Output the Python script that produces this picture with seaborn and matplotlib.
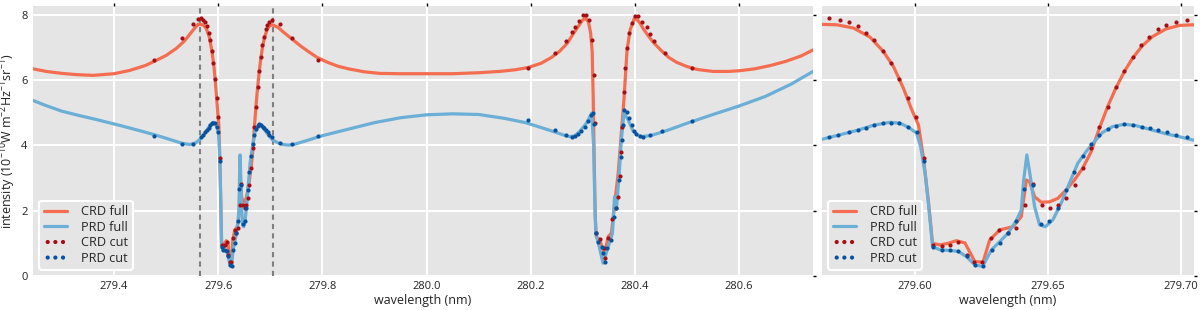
import numpy as np
import pandas as pd
import seaborn as sns
import matplotlib.pyplot as plt

# Mg II h&k profiles
crd_full_wl = [279.2445, 279.27, 279.30, 279.33, 279.36, 279.40, 279.43, 279.46, 279.48, 279.50,
               279.52, 279.535, 279.545, 279.555, 279.562,
               279.5706, 279.5769, 279.5831, 279.5881, 279.5919, 279.5956, 279.5988, 279.6013,
               279.6031, 279.605, 279.6066, 279.6094, 279.6125, 279.6156, 279.6188, 279.6225, 279.6256,
               279.6281, 279.6319, 279.6369, 279.64, 279.6419, 279.6431, 279.645, 279.6475, 279.6506,
               279.6538, 279.6569, 279.66, 279.6631, 279.6663, 279.6694, 279.6725, 279.6756, 279.6788,
               279.6819, 279.6856, 279.6894, 279.6944, 279.6994, 279.7044,
               279.715, 279.725, 279.735, 279.745, 279.76, 279.775, 279.79, 279.81, 279.83, 279.85,
               279.88, 279.91, 279.95, 280.0, 280.05, 280.10, 280.14, 280.17, 280.195, 280.22,
               280.24, 280.255, 280.27, 280.28, 280.29, 280.30, 280.306, 280.311, 280.315,
               280.318, 280.32, 280.322, 280.324, 280.326, 280.333, 280.341, 280.349, 280.355, 280.362,
               280.368, 280.374, 280.379, 280.385, 280.391, 280.399, 280.405, 280.41, 280.416, 280.425,
               280.435, 280.45, 280.465, 280.48, 280.50, 280.52, 280.55, 280.58, 280.60, 280.63,
               280.66, 280.69, 280.72, 280.742]
crd_full_int = [6.35, 6.27, 6.21, 6.17, 6.15, 6.20, 6.30, 6.45, 6.60, 6.76,
                6.98, 7.20, 7.40, 7.60, 7.72,
                7.70, 7.60, 7.32, 6.88, 6.42, 5.76, 5.09, 4.63,
                3.66, 2.33, 1.00, 0.95, 1.00, 1.08, 1.01, 0.44, 0.42,
                1.10, 1.41, 1.51, 1.82, 2.94, 2.89, 2.43, 2.26, 2.27,
                2.38, 2.64, 2.94, 3.30, 3.81, 4.53, 5.19, 5.76, 6.27,
                6.68, 7.06, 7.34, 7.57, 7.68, 7.70,
                7.62, 7.48, 7.35, 7.22, 7.03, 6.86, 6.70, 6.55, 6.43, 6.35,
                6.26, 6.21, 6.20, 6.20, 6.20, 6.23, 6.27, 6.32, 6.39, 6.52,
                6.70, 6.88, 7.13, 7.38, 7.62, 7.85, 7.90, 7.78, 7.45,
                6.90, 5.50, 3.50, 1.80, 1.20, 1.10, 0.64, 1.21, 1.31, 2.33,
                3.15, 4.38, 5.40, 6.93, 7.55, 7.90, 7.85, 7.75, 7.58, 7.38,
                7.17, 6.92, 6.70, 6.55, 6.42, 6.33, 6.27, 6.27, 6.29, 6.35,
                6.45, 6.58, 6.75, 6.93]

prd_full_wl = [279.2445, 279.27, 279.30, 279.33, 279.37, 279.41, 279.45, 279.48, 279.51, 279.53,
               279.545, 279.557, 279.565,
               279.5719, 279.5781, 279.5844, 279.5906, 279.5944, 279.5975, 279.6006, 279.6021, 279.6038,
               279.6054, 279.6066, 279.6094, 279.6131, 279.6163, 279.6194, 279.6225, 279.6254, 279.6288,
               279.6325, 279.635, 279.6381, 279.64, 279.6409, 279.6421, 279.6434, 279.645, 279.6469,
               279.6491, 279.6519, 279.655, 279.6581, 279.6613, 279.6644, 279.6675, 279.6706, 279.6744,
               279.6788, 279.6831, 279.6881, 279.6944, 279.6994, 279.7044,
               279.715, 279.725, 279.735, 279.745, 279.77, 279.80, 279.85, 279.90, 279.95, 280.0,
               280.05, 280.10, 280.15, 280.19, 280.22, 280.245, 280.265, 280.275, 280.285, 280.294,
               280.307, 280.317, 280.321, 280.323, 280.325, 280.33, 280.339, 280.349, 280.357, 280.361,
               280.365, 280.37, 280.374, 280.379, 280.387, 280.397, 280.41, 280.43, 280.46, 280.50,
               280.55, 280.60, 280.65, 280.70, 280.742]
prd_full_int = [5.38, 5.22, 5.05, 4.93, 4.78, 4.62, 4.45, 4.32, 4.17, 4.07,
                4.03, 4.08, 4.19,
                4.33, 4.46, 4.62, 4.71, 4.68, 4.56, 4.38, 3.97, 3.15,
                1.93, 0.90, 0.80, 0.78, 0.75, 0.59, 0.34, 0.29, 0.80,
                1.10, 1.31, 1.69, 2.02, 2.94, 3.71, 3.05, 2.13, 1.56,
                1.51, 1.72, 2.23, 2.84, 3.46, 3.81, 4.12, 4.40, 4.58,
                4.65, 4.61, 4.50, 4.36, 4.27, 4.17,
                4.08, 4.03, 4.01, 4.03, 4.15, 4.30, 4.50, 4.70, 4.85, 4.94,
                4.97, 4.95, 4.83, 4.70, 4.55, 4.42, 4.31, 4.27, 4.30, 4.43,
                4.68, 4.99, 3.97, 2.33, 1.31, 1.00, 0.39, 0.90, 1.31, 2.43,
                2.13, 3.15, 4.17, 5.00, 4.79, 4.43, 4.27, 4.30, 4.45, 4.68,
                4.95, 5.21, 5.50, 5.88, 6.27]

crd_cut_wl = [279.477, 279.530, 279.551, 279.562,
              279.5675, 279.5716, 279.575, 279.5784, 279.5816, 279.5847, 279.5879, 279.591, 279.5941,
              279.5973, 279.6004, 279.6035, 279.6069, 279.61, 279.6131, 279.616, 279.6194, 279.6222,
              279.6254, 279.6285, 279.6316, 279.6351, 279.6381, 279.6413, 279.6444, 279.6478, 279.6509,
              279.6538, 279.6569, 279.6601, 279.6631, 279.6663, 279.6694, 279.6727, 279.6756, 279.6788,
              279.6819, 279.6851, 279.6881, 279.6915, 279.6946, 279.6982, 279.7025,
              279.7186, 279.741, 279.792,
              280.195, 280.2465, 280.2676, 280.2785, 280.2848, 280.293, 280.2996, 280.306, 280.3124,
              280.3175, 280.321, 280.3234, 280.3253, 280.333, 280.3405, 280.342, 280.3488, 280.357,
              280.3635, 280.368, 280.371, 280.3725, 280.3756, 280.379, 280.381, 280.384, 280.3885,
              280.3936, 280.400, 280.4063, 280.413, 280.4225, 280.4289, 280.4365, 280.4576, 280.5088]
crd_cut_int = [6.62, 7.28, 7.72, 7.88,
               7.90, 7.85, 7.78, 7.67, 7.46, 7.22, 6.91, 6.52, 6.03,
               5.47, 4.86, 3.61, 0.95, 0.92, 0.95, 1.03, 0.64, 0.44,
               0.42, 1.16, 1.41, 1.33, 1.48, 2.16, 2.81, 2.16, 2.08,
               2.16, 2.38, 2.79, 3.30, 3.92, 4.56, 5.17, 5.79, 6.29,
               6.71, 7.09, 7.34, 7.57, 7.70, 7.80, 7.85,
               7.73, 7.31, 6.63,
               6.39, 6.83, 7.19, 7.47, 7.62, 7.82, 7.99, 8.01, 7.85,
               7.24, 6.17, 4.68, 1.31, 1.13, 0.85, 0.54, 1.16, 1.74,
               2.08, 2.41, 3.05, 3.81, 4.58, 5.65, 6.37, 6.98, 7.44,
               7.75, 7.98, 7.98, 7.80, 7.63, 7.41, 7.21, 6.83, 6.39]

prd_cut_wl = [279.477, 279.530, 279.551,
              279.5675, 279.5712, 279.575, 279.5784, 279.5815, 279.5847, 279.5879, 279.591, 279.5941,
              279.5973, 279.6006, 279.6035, 279.6069, 279.61, 279.6131, 279.616, 279.6194, 279.6225,
              279.6256, 279.6288, 279.6319, 279.635, 279.6379, 279.6409, 279.6444, 279.6475, 279.6506,
              279.6538, 279.6569, 279.66, 279.6631, 279.6663, 279.6694, 279.6725, 279.6756, 279.6788,
              279.6819, 279.6854, 279.6884, 279.6916, 279.695, 279.6982, 279.7025,
              279.7186, 279.741, 279.792,
              280.195, 280.2465, 280.2676, 280.2785, 280.285, 280.291, 280.2975, 280.304, 280.310,
              280.3156, 280.319, 280.321, 280.3253, 280.33, 280.336, 280.339, 280.342, 280.3468,
              280.355, 280.36, 280.3635, 280.37, 280.3725, 280.3744, 280.3763, 280.3795, 280.384,
              280.3886, 280.394, 280.399, 280.403, 280.41, 280.416, 280.429, 280.452, 280.5088]
prd_cut_int = [4.29, 4.05, 4.05,
               4.25, 4.33, 4.41, 4.48, 4.55, 4.64, 4.68, 4.70, 4.68,
               4.58, 4.41, 3.51, 0.88, 0.78, 0.78, 0.77, 0.61, 0.34,
               0.29, 0.78, 1.02, 1.31, 1.69, 2.66, 2.79, 1.60, 1.67,
               2.08, 2.62, 3.20, 3.68, 4.05, 4.33, 4.50, 4.60, 4.65,
               4.63, 4.58, 4.53, 4.46, 4.40, 4.33, 4.25,
               4.07, 4.05, 4.29,
               4.79, 4.46, 4.33, 4.27, 4.29, 4.36, 4.45, 4.58, 4.76,
               4.94, 4.99, 4.66, 1.31, 1.05, 0.90, 0.70, 0.44, 0.85,
               1.10, 1.80, 2.08, 2.94, 3.66, 4.17, 4.63, 5.09, 5.04,
               4.84, 4.63, 4.45, 4.36, 4.29, 4.27, 4.33, 4.45, 4.76]

# zoom window on the k line (dashed lines in the left panel)
k_zoom = (279.565, 279.705)
full_range = (279.2445, 280.742)

crd_full = pd.DataFrame({'wl': crd_full_wl, 'I': crd_full_int})
prd_full = pd.DataFrame({'wl': prd_full_wl, 'I': prd_full_int})
crd_cut = pd.DataFrame({'wl': crd_cut_wl, 'I': crd_cut_int})
prd_cut = pd.DataFrame({'wl': prd_cut_wl, 'I': prd_cut_int})

sns.set_style('darkgrid', {'axes.facecolor': '#E5E5E5', 'grid.color': 'white'})
plt.rcParams['font.family'] = ['Open Sans', 'DejaVu Sans']
plt.rcParams['mathtext.fontset'] = 'custom'
plt.rcParams['mathtext.rm'] = 'Open Sans'
plt.rcParams['mathtext.it'] = 'Open Sans'

c_crd, c_prd = '#f46d50', '#6baed6'
c_crd_cut, c_prd_cut = '#a50f15', '#08519c'

fig = plt.figure(figsize=(12, 3.1), dpi=100)
ax1 = fig.add_axes([0.0275, 0.11, 0.65, 0.871])
ax2 = fig.add_axes([0.685, 0.11, 0.31, 0.871])


def draw(ax):
    sns.lineplot(data=crd_full, x='wl', y='I', ax=ax, color=c_crd, lw=2.3, estimator=None,
                 label='CRD full')
    sns.lineplot(data=prd_full, x='wl', y='I', ax=ax, color=c_prd, lw=2.3, estimator=None,
                 label='PRD full')
    sns.scatterplot(data=crd_cut, x='wl', y='I', ax=ax, color=c_crd_cut, s=9, linewidth=0,
                    label='CRD cut', zorder=3)
    sns.scatterplot(data=prd_cut, x='wl', y='I', ax=ax, color=c_prd_cut, s=9, linewidth=0,
                    label='PRD cut', zorder=3)
    ax.set_ylim(0, 8.28)
    ax.set_yticks([0, 2, 4, 6, 8])
    ax.set_xlabel('wavelength (nm)', fontsize=9, color='#222222', labelpad=1)
    ax.tick_params(top=True, right=True, direction='out', length=2.5, width=1, color='black',
                   labelsize=8, labelcolor='#222222', pad=1.5)
    ax.grid(True, color='white', lw=1.4)
    for sp in ax.spines.values():
        sp.set_visible(False)
    ax.legend(loc='lower left', scatterpoints=3, scatteryoffsets=[0.5], fontsize=9.2,
              frameon=True, facecolor='#E5E5E5', edgecolor='white', framealpha=1,
              handlelength=1.8, borderpad=0.35, labelspacing=0.2, borderaxespad=0.5,
              handletextpad=1.1)
    ax.get_legend().get_frame().set_linewidth(1.5)


draw(ax1)
ax1.set_xlim(*full_range)
ax1.set_xticks([279.4, 279.6, 279.8, 280.0, 280.2, 280.4, 280.6])
ax1.set_xticklabels(['279.4', '279.6', '279.8', '280.0', '280.2', '280.4', '280.6'])
for xv in k_zoom:
    ax1.axvline(xv, color='#808080', ls=(0, (2.5, 2)), lw=1.5, zorder=1)
ax1.set_ylabel('intensity (10$^{-10}$W m$^{-2}$Hz$^{-1}$sr$^{-1}$)', fontsize=9, color='#222222',
               labelpad=2)

draw(ax2)
ax2.set_xlim(*k_zoom)
ax2.set_xticks([279.60, 279.65, 279.70])
ax2.set_xticklabels(['279.60', '279.65', '279.70'])
ax2.set_ylabel('')
ax2.set_yticklabels([])

fig.savefig('out.png', dpi=100)
